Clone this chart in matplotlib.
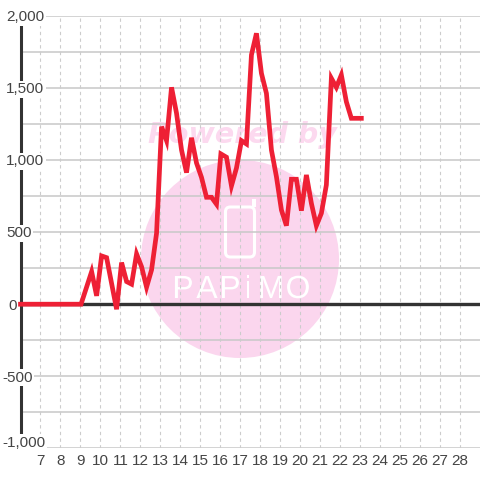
import matplotlib

matplotlib.use("Agg")

import matplotlib.patheffects as pe
import matplotlib.pyplot as plt
from matplotlib.patches import Circle, FancyBboxPatch, Rectangle

plt.rcParams["font.family"] = ["Liberation Sans", "DejaVu Sans"]

hours = [6, 7, 8, 8.8, 9.03, 9.56, 9.81, 10.06, 10.31, 10.81, 11.06, 11.31, 11.56, 11.81, 12.06, 12.31,
         12.56, 12.81, 13.06, 13.31, 13.56, 13.81, 14.06, 14.31, 14.56, 14.81, 15.06, 15.31, 15.56, 15.81,
         16.03, 16.31, 16.56, 16.81, 17.06, 17.31, 17.56, 17.81, 18.06, 18.31, 18.56, 18.81, 19.06, 19.31,
         19.56, 19.81, 20.06, 20.31, 20.56, 20.81, 21.06, 21.31, 21.56, 21.81, 22.06, 22.31, 22.56, 22.81, 23.06]
values = [0, 0, 0, 0, 0, 226, 58, 335, 323, -35, 289, 157, 139, 349, 260, 118,
          238, 492, 1232, 1135, 1505, 1325, 1070, 913, 1155, 980, 880, 742, 742, 694,
          1043, 1020, 821, 945, 1135, 1112, 1730, 1880, 1602, 1463, 1070, 885, 654, 545,
          867, 867, 649, 897, 700, 545, 631, 828, 1568, 1505, 1591, 1405, 1290, 1290, 1290]

x_ticks = list(range(7, 29))
y_major = [2000, 1500, 1000, 500, 0, -500, -1000]
y_major_labels = ["2,000", "1,500", "1,000", "500", "0", "-500", "-1,000"]
y_label_left = [6, 6, 6, 6, 8, 2, 2]
y_label_shift = [0, 0, 0, 0, 0, 0, 7]
y_grid = [2000, 1750, 1500, 1250, 1000, 750, 500, 250, -250, -500, -750, -1000]
watermark_letters = ["P", "A", "P", "i", "M", "O"]
watermark_x = [183, 207, 230, 248, 271, 298]

W = 480
H = 480
TEXT = "#444444"
DARK = "#333333"
GRID = "#c8c8c8"
PINK = "#fbd6ee"

fig = plt.figure(figsize=(W / 100, H / 100), dpi=100, facecolor="white")
ax = fig.add_axes([20.5 / W, 1 - 448.3 / H, (W - 20.5) / W, (448.3 - 16) / H])
ax.set_xlim(6, 29)
ax.set_ylim(-1000, 2000)
ax.set_xticks([])
ax.set_yticks([])
for name in ["top", "right", "bottom"]:
    ax.spines[name].set_visible(False)
ax.spines["left"].set_linewidth(2.2)
ax.spines["left"].set_color(DARK)


# helper for things placed by pixel (watermark, labels)
def px(x, y):
    return x / W, 1 - y / H


# watermark
cx, cy = px(240, 259)
fig_art = dict(transform=fig.transFigure, zorder=0.5, clip_on=False)
ax.add_artist(Circle((cx, cy), 99 / W, facecolor=PINK, edgecolor="none", **fig_art))
px0, py0 = px(225.5, 257)
ax.add_artist(FancyBboxPatch((px0, py0), 29 / W, 50 / H, boxstyle="round,pad=0,rounding_size=0.01",
                             facecolor="none", edgecolor="white", linewidth=2.2, **fig_art))
tab_x, tab_y = px(252.5, 207)
ax.add_artist(Rectangle((tab_x, tab_y), 3.5 / W, 8 / H, facecolor="white", edgecolor="none", **fig_art))
tx, ty = px(242, 135)
ax.text(tx, ty, "Powered by", transform=fig.transFigure, ha="center", va="center", fontsize=20.5,
        family="DejaVu Sans", fontweight="bold", fontstyle="italic", color="#fcd9ef", zorder=0.6)
for letter, lx in zip(watermark_letters, watermark_x):
    wx, wy = px(lx, 290)
    # pink stroke thins the glyphs down to the logo's line weight
    ax.text(wx, wy, letter, transform=fig.transFigure, ha="center", va="center", fontsize=23,
            family="Liberation Sans", color="white", zorder=0.6,
            path_effects=[pe.withStroke(linewidth=1.0, foreground=PINK)])

# grid
for v in y_grid:
    ax.axhline(v, color=GRID, linewidth=1.1, zorder=1)
for t in x_ticks:
    ax.axvline(t, color="#cccccc", linewidth=0.8, linestyle=(0, (3, 3)), zorder=1)
ax.axhline(0, color=DARK, linewidth=2.4, zorder=1.5)

ax.plot(hours, values, color="#ee2035", linewidth=3.4, solid_joinstyle="miter",
        solid_capstyle="projecting", zorder=3, clip_on=False)

# tick labels
for v, label, left, shift in zip(y_major, y_major_labels, y_label_left, y_label_shift):
    y_px = 304.3 - v / 500 * 72.08 - shift + 1.2
    lx, ly = px(left, y_px)
    fig.text(lx, ly, label, ha="left", va="center", fontsize=11, color=TEXT, zorder=4,
             bbox=dict(facecolor="white", edgecolor="none", pad=1.2))
for t in x_ticks:
    lx = (40.5 + (t - 7) * 19.98) / W
    fig.text(lx, 1 - 461 / H, str(t), ha="center", va="center", fontsize=11, color=TEXT)

fig.savefig("out.png", dpi=100)
plt.close(fig)
